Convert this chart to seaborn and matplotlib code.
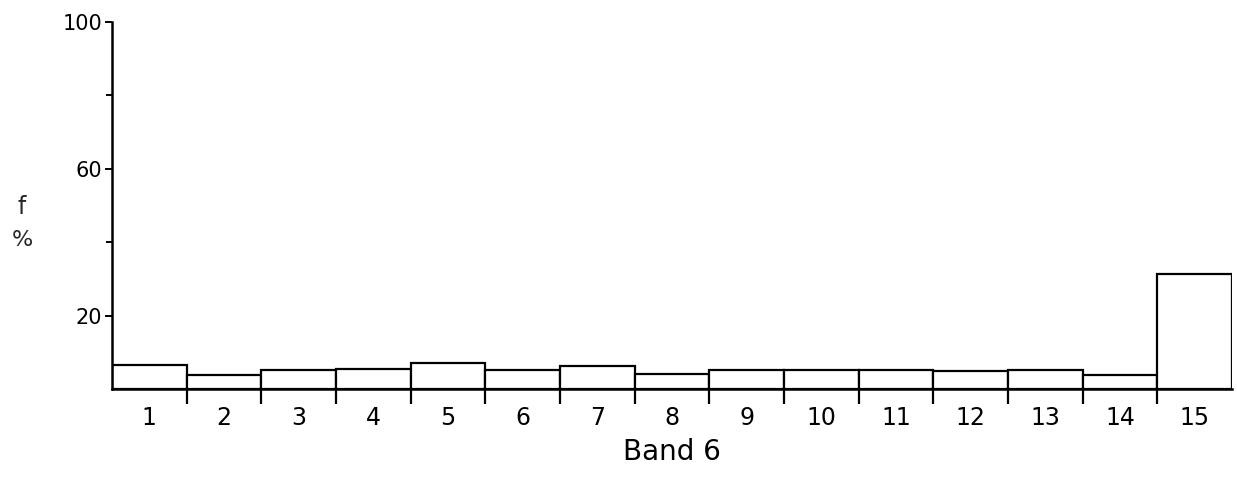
import numpy as np
import pandas as pd
import seaborn as sns
import matplotlib
matplotlib.use('Agg')
import matplotlib.pyplot as plt
from matplotlib.ticker import FixedLocator

# frequency per class
bands = [str(i) for i in range(1, 16)]
freq = [6.6, 3.8, 5.3, 5.4, 7.0, 5.2, 6.2, 4.1, 5.2, 5.2, 5.1, 4.8, 5.3, 3.7, 31.3]
y_major = [20, 60, 100]
y_minor = [40, 80]

sns.set_theme(style="white")
plt.rcParams['font.family'] = ['DejaVu Sans']

df = pd.DataFrame({"band": bands, "f": freq})

fig = plt.figure(figsize=(12.37, 4.82), dpi=100)
ax = fig.add_axes([112 / 1237, 93 / 482, 1120 / 1237, 367 / 482])

sns.barplot(data=df, x="band", y="f", ax=ax, width=1.0, color="white",
            edgecolor="black", linewidth=1.6, saturation=1)

ax.set_xlim(-0.5, len(bands) - 0.5)
ax.set_ylim(0, 100)

for side in ["top", "right"]:
    ax.spines[side].set_visible(False)
for side in ["left", "bottom"]:
    ax.spines[side].set_color("black")
    ax.spines[side].set_linewidth(1.8)

# labels centred under bars, tick marks at the bar boundaries
ax.set_xticks(range(len(bands)))
ax.set_xticklabels(bands, fontsize=17)
ax.xaxis.set_minor_locator(FixedLocator(np.arange(0.5, len(bands) - 1, 1.0)))
ax.tick_params(axis="x", which="major", length=0, pad=12, colors="black")
ax.tick_params(axis="x", which="minor", bottom=True, direction="out",
               length=11, width=1.6, color="black")

ax.set_yticks(y_major)
ax.set_yticklabels([str(v) for v in y_major], fontsize=15)
ax.yaxis.set_minor_locator(FixedLocator(y_minor))
ax.tick_params(axis="y", which="major", left=True, direction="out",
               length=5, width=1.4, pad=2, colors="black")
ax.tick_params(axis="y", which="minor", left=True, direction="out",
               length=4, width=1.4, color="black")

ax.set_xlabel("Band 6", fontsize=20, labelpad=6, color="black")
ax.set_ylabel("")
fig.text(22 / 1237, 1 - 207 / 482, "f", fontsize=17, ha="center", va="center")
fig.text(22 / 1237, 1 - 240 / 482, "%", fontsize=16, ha="center", va="center")

plt.savefig("out.png", dpi=100, facecolor="white")
plt.close('all')
